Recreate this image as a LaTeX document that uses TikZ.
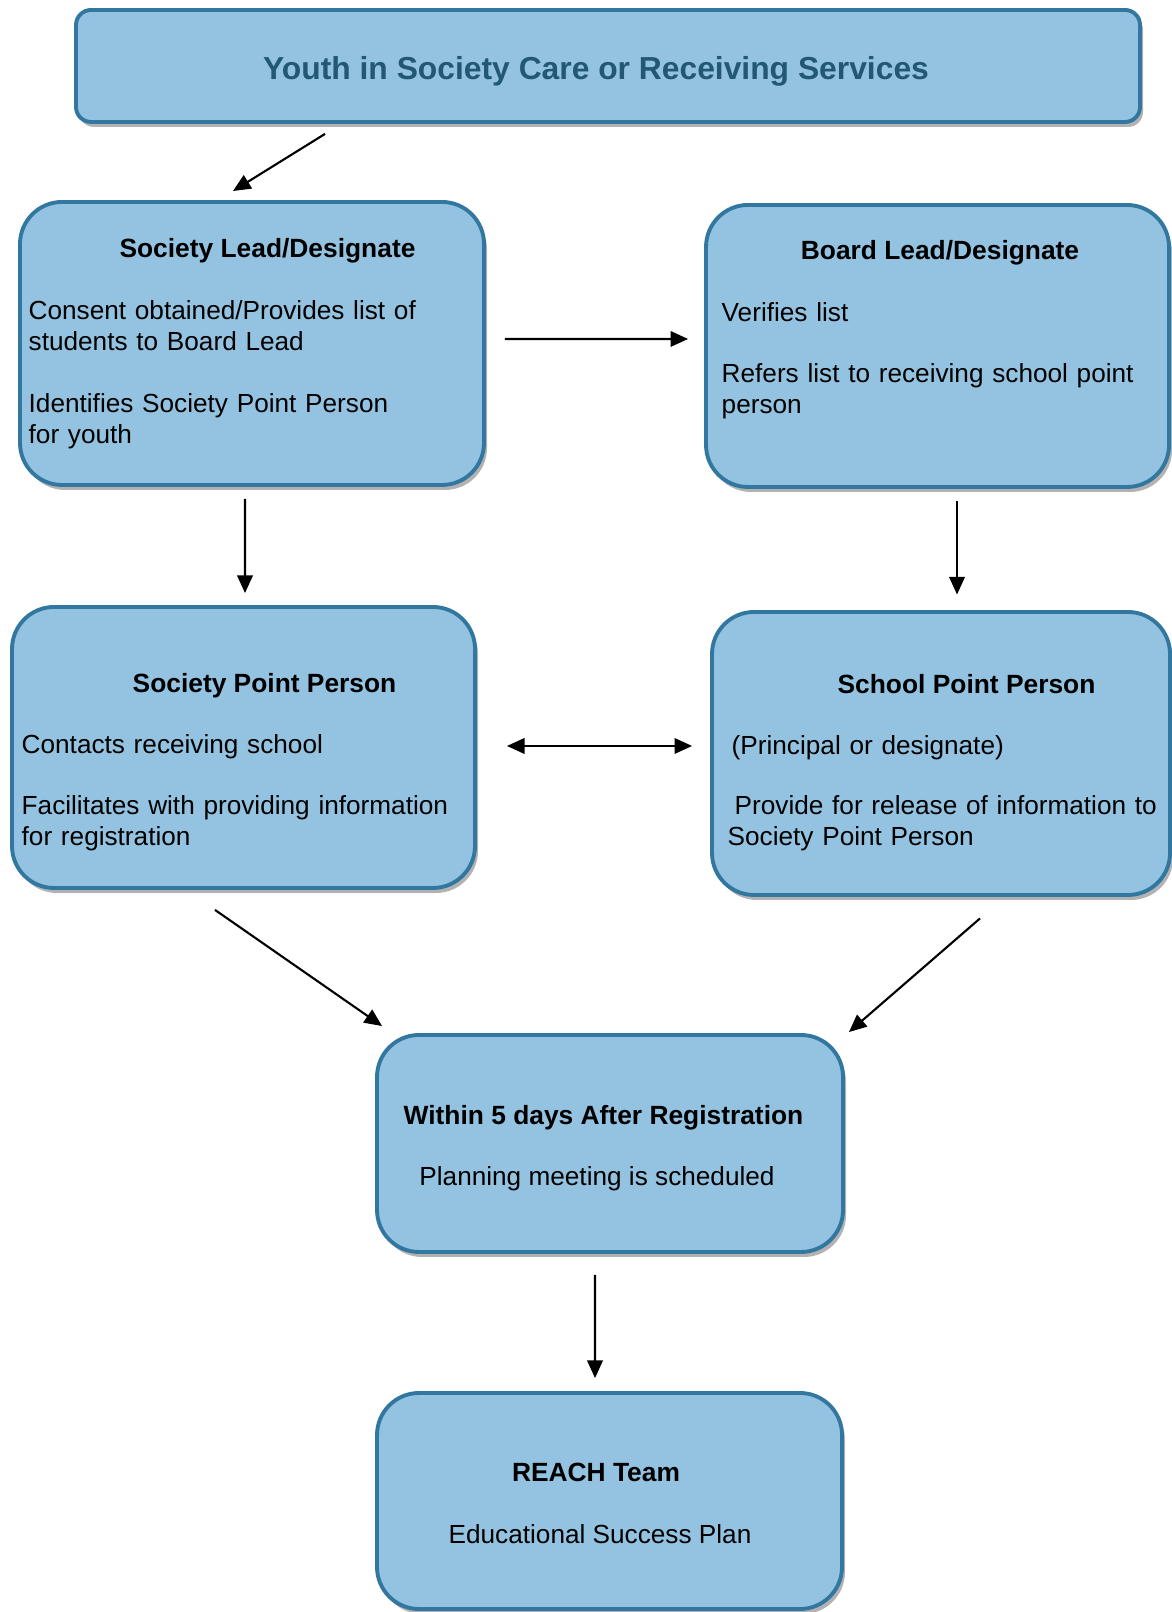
\documentclass[tikz,border=0pt]{standalone}
\usepackage{fontspec}
\setmainfont{Liberation Sans}
\usetikzlibrary{arrows.meta,shadows}
\definecolor{boxfill}{RGB}{147,195,224}
\definecolor{boxline}{RGB}{49,119,159}
\definecolor{titletext}{RGB}{35,88,117}
\begin{document}
\begin{tikzpicture}[
    box/.style={draw=boxline,fill=boxfill,line width=1.1pt,rounded corners=0.42cm,inner sep=0,
        drop shadow={shadow xshift=0.03cm,shadow yshift=-0.05cm,fill=black,opacity=0.3}},
    head/.style={font=\fontsize{7.5}{8.8}\selectfont\bfseries,inner sep=0,anchor=base},
    body/.style={font=\fontsize{7.45}{8.8}\selectfont,inner sep=0,anchor=base west,align=left,text width=4.5cm},
    arr/.style={-{Triangle[length=5pt,width=4.4pt]},line width=0.6pt}]
    \useasboundingbox (0,0) rectangle (11.71,16.12);
    % boxes
    \node[box,rounded corners=0.15cm,minimum width=10.64cm,minimum height=1.12cm] (top) at (6.08,15.46) {};
    \node[box,minimum width=4.64cm,minimum height=2.83cm] (slead) at (2.52,12.685) {};
    \node[box,minimum width=4.63cm,minimum height=2.82cm] (blead) at (9.375,12.66) {};
    \node[box,minimum width=4.63cm,minimum height=2.81cm] (spp) at (2.435,8.645) {};
    \node[box,minimum width=4.58cm,minimum height=2.83cm] (schpp) at (9.41,8.585) {};
    \node[box,minimum width=4.66cm,minimum height=2.17cm] (plan) at (6.10,4.685) {};
    \node[box,minimum width=4.65cm,minimum height=2.16cm] (reach) at (6.095,1.11) {};
    % texts
    \node[head,font=\fontsize{9.05}{11}\selectfont\bfseries,text=titletext] (toptxt) at (5.96,15.32) {Youth in Society Care or Receiving Services};
    \node[head] (sleadhd) at (2.675,13.54) {Society Lead/Designate};
    \node[body] (slead1) at (0.28,12.92) {Consent obtained/Provides list of\\students to Board Lead};
    \node[body] (slead2) at (0.28,11.99) {Identifies Society Point Person\\for youth};
    \node[head] (bleadhd) at (9.40,13.52) {Board Lead/Designate};
    \node[body] (blead1) at (7.21,12.90) {Verifies list};
    \node[body] (blead2) at (7.21,12.29) {Refers list to receiving school point\\person};
    \node[head] (spphd) at (2.645,9.19) {Society Point Person};
    \node[body] (spp1) at (0.21,8.58) {Contacts receiving school};
    \node[body] (spp2) at (0.21,7.97) {Facilitates with providing information\\for registration};
    \node[head] (schpphd) at (9.665,9.18) {School Point Person};
    \node[body] (schpp1) at (7.31,8.57) {(Principal or designate)};
    \node[body] (schpp2) at (7.27,7.97) {\hspace*{0.07cm}Provide for release of information to\\Society Point Person};
    \node[head] (planhd) at (6.035,4.87) {Within 5 days After Registration};
    \node[head,font=\fontsize{7.45}{8.8}\selectfont] (plan1) at (5.97,4.26) {Planning meeting is scheduled};
    \node[head] (reachhd) at (5.96,1.30) {REACH Team};
    \node[head,font=\fontsize{7.45}{8.8}\selectfont] (reach1) at (6.0,0.68) {Educational Success Plan};
    % arrows
    \draw[arr] ([xshift=-2.83cm,yshift=-0.1cm]top.south) -- ([xshift=-0.19cm,yshift=0.09cm]slead.north);
    \draw[arr] ([xshift=0.19cm,yshift=0.045cm]slead.east) -- ([xshift=-0.16cm,yshift=0.07cm]blead.west);
    \draw[arr] ([xshift=-0.07cm,yshift=-0.12cm]slead.south) -- ([xshift=0.015cm,yshift=0.12cm]spp.north);
    \draw[arr] ([xshift=0.195cm,yshift=-0.12cm]blead.south) -- ([xshift=0.16cm,yshift=0.155cm]schpp.north);
    \draw[arr,{Triangle[length=5pt,width=4.4pt]}-{Triangle[length=5pt,width=4.4pt]}] ([xshift=0.30cm,yshift=0.015cm]spp.east) -- ([xshift=-0.18cm,yshift=0.075cm]schpp.west);
    \draw[arr] ([xshift=-0.285cm,yshift=-0.20cm]spp.south) -- ([xshift=0.07cm,yshift=0.07cm]plan.north west);
    \draw[arr] ([xshift=0.39cm,yshift=-0.215cm]schpp.south) -- ([xshift=0.04cm,yshift=0.01cm]plan.north east);
    \draw[arr] ([xshift=-0.15cm,yshift=-0.21cm]plan.south) -- ([xshift=-0.145cm,yshift=0.13cm]reach.north);
\end{tikzpicture}
\end{document}
